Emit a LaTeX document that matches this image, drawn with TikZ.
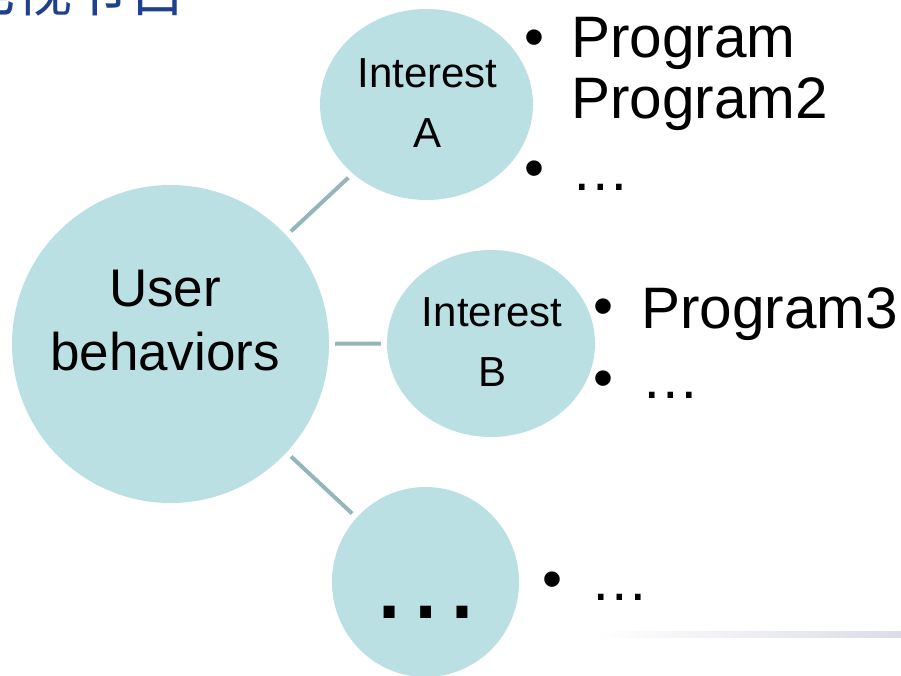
\documentclass[tikz,border=0pt]{standalone}
\usepackage{fontspec}
\setmainfont{Liberation Sans}
\newfontfamily\cjkfont{Noto Sans CJK SC}
\usetikzlibrary{shapes.geometric}
\definecolor{bubblefill}{RGB}{187,224,227}
\definecolor{spokegray}{RGB}{148,182,185}
\definecolor{titleblue}{RGB}{31,63,143}
\definecolor{rulegray}{RGB}{220,220,232}

\begin{document}
\begin{tikzpicture}[x=1pt,y=-1pt,
  bubble/.style={ellipse,fill=bubblefill,inner sep=0pt},
  spoke/.style={draw=spokegray,line width=4pt,shorten <=6pt,shorten >=6pt},
  entry/.style={anchor=base west,inner sep=0pt,font=\fontsize{58.5}{62}\selectfont},
  bulletmark/.style={inner sep=0pt,font=\fontsize{57}{61}\selectfont}]
  \useasboundingbox (0,0) rectangle (901,675);

  % cut-off heading
  \node[anchor=base west,inner sep=0pt,text=titleblue,font=\cjkfont\fontsize{57}{57}\selectfont] (title) at (-42,11) {电视节目};

  % bubbles
  \node[bubble,minimum width=317pt,minimum height=318pt] (user) at (170.5,344) {};
  \node[bubble,minimum width=213pt,minimum height=191pt] (intA) at (426.5,104.5) {};
  \node[bubble,minimum width=208pt,minimum height=187pt] (intB) at (491,343.5) {};
  \node[bubble,minimum width=187pt,minimum height=190pt] (more) at (425.5,582) {};

  \draw[spoke] (user) -- (intA);
  \draw[spoke] (user) -- (intB);
  \draw[spoke] (user) -- (more);

  \node[align=center,font=\fontsize{53}{64}\selectfont] (userTxt) at (165,321) {User\\behaviors};
  \node[align=center,font=\fontsize{42}{60}\selectfont] (intATxt) at (427.5,103) {Interest\\A};
  \node[align=center,font=\fontsize{42}{60}\selectfont] (intBTxt) at (492,342.5) {Interest\\B};
  \node[anchor=base,inner sep=0pt,font=\fontsize{115}{115}\selectfont] (moreTxt) at (425.5,618) {…};

  % lists
  \node[bulletmark] (bA1) at (534,43) {•};
  \node[bulletmark] (bA2) at (534,174) {•};
  \node[entry] (progA) at (571,57) {Program};
  \node[entry] (progA2) at (571,118) {Program2};
  \node[entry] (etcA) at (571,190) {…};

  \node[bulletmark] (bB1) at (603,312) {•};
  \node[bulletmark] (bB2) at (603,384) {•};
  \node[entry] (progB) at (641,328) {Program3};
  \node[entry] (etcB) at (641,398) {…};

  \node[bulletmark] (bC1) at (552,585) {•};
  \node[entry] (etcC) at (590.5,600) {…};

  \shade[left color=white,right color=rulegray] (597,631) rectangle (901,637);
\end{tikzpicture}
\end{document}
